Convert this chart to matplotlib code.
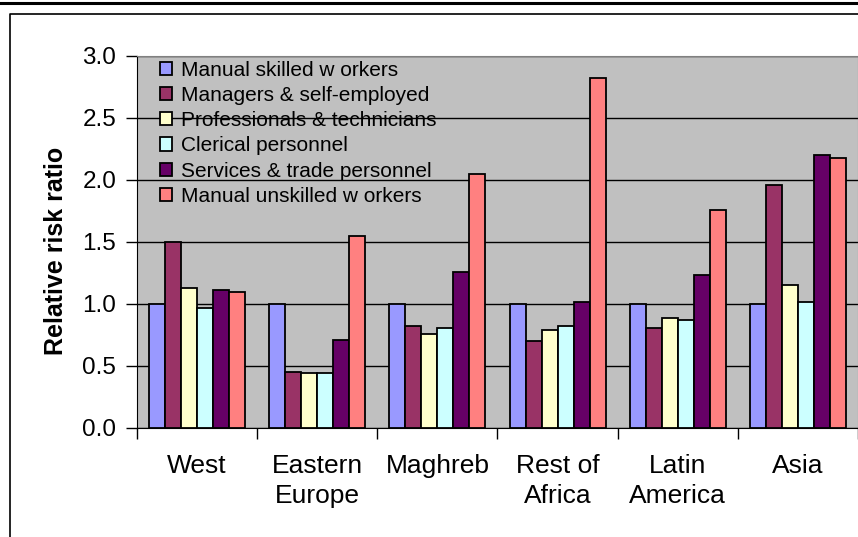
import numpy as np
import matplotlib.pyplot as plt
from matplotlib.lines import Line2D

## Relative risk ratios by region of origin and occupational group
regions = ['West', 'Eastern\nEurope', 'Maghreb', 'Rest of\nAfrica', 'Latin\nAmerica', 'Asia']
groups = ['Manual skilled w orkers', 'Managers & self-employed', 'Professionals & technicians',
          'Clerical personnel', 'Services & trade personnel', 'Manual unskilled w orkers']
manual_skilled = [1.00, 1.00, 1.00, 1.00, 1.00, 1.00]
managers = [1.50, 0.45, 0.82, 0.70, 0.81, 1.96]
professionals = [1.13, 0.44, 0.76, 0.79, 0.89, 1.15]
clerical = [0.97, 0.44, 0.81, 0.82, 0.87, 1.02]
services = [1.11, 0.71, 1.26, 1.02, 1.23, 2.20]
manual_unskilled = [1.10, 1.55, 2.05, 2.82, 1.76, 2.18]
colors = ['#9999FF', '#993366', '#FFFFCC', '#CCFFFF', '#660066', '#FF8080']

series = [manual_skilled, managers, professionals, clerical, services, manual_unskilled]

plt.rcParams['font.family'] = ['Liberation Sans', 'DejaVu Sans']

fig = plt.figure(figsize=(8.58, 5.37), dpi=100)
ax = fig.add_axes([137 / 858, 1 - 428 / 537, 721 / 858, 372 / 537])
ax.set_facecolor('#C0C0C0')

x = np.arange(len(regions))
w = 0.8 / len(series)
for i, (vals, c, name) in enumerate(zip(series, colors, groups)):
    ax.bar(x + (i - 2.5) * w, vals, width=w, color=c, edgecolor='black',
           linewidth=1.3, label=name, zorder=3)

ax.set_xlim(-0.5, len(regions) - 0.5)
ax.set_ylim(0, 3.0)
ax.set_yticks(np.arange(0, 3.01, 0.5))
ax.set_yticklabels(['%.1f' % v for v in np.arange(0, 3.01, 0.5)], fontsize=17.5)
ax.tick_params(axis='y', length=8, width=1, pad=7)

# category labels sit between the boundary ticks
ax.set_xticks(np.arange(-0.5, len(regions)), minor=False)
ax.set_xticklabels([''] * (len(regions) + 1))
ax.set_xticks(x, minor=True)
ax.set_xticklabels(regions, minor=True, fontsize=19, linespacing=1.3)
ax.tick_params(axis='x', which='major', length=8, width=1)
ax.tick_params(axis='x', which='minor', length=0, pad=19)

ax.yaxis.grid(True, color='black', linewidth=1)
ax.set_axisbelow(True)
for s in ['top', 'right']:
    ax.spines[s].set_color('#808080')
ax.spines['left'].set_color('black')
ax.spines['bottom'].set_color('black')

ax.set_ylabel('Relative risk ratio', fontsize=18, fontweight='bold')
ax.yaxis.set_label_coords(-0.0957, 0.476)

ax.legend(loc='upper left', bbox_to_anchor=(0.02, 1.01), frameon=False, fontsize=15,
          handlelength=0.6, handleheight=0.6, handletextpad=0.4, labelspacing=0.3,
          borderaxespad=0)

## Surrounding chart frame and the rule above it
fig.add_artist(Line2D([10 / 858, 10 / 858, 1], [0, 1 - 13.5 / 537, 1 - 13.5 / 537],
                      color='black', linewidth=1.2, transform=fig.transFigure))
fig.add_artist(Line2D([0, 1], [1 - 3 / 537, 1 - 3 / 537],
                      color='black', linewidth=2.2, transform=fig.transFigure))

plt.savefig('out.png', dpi=100)
